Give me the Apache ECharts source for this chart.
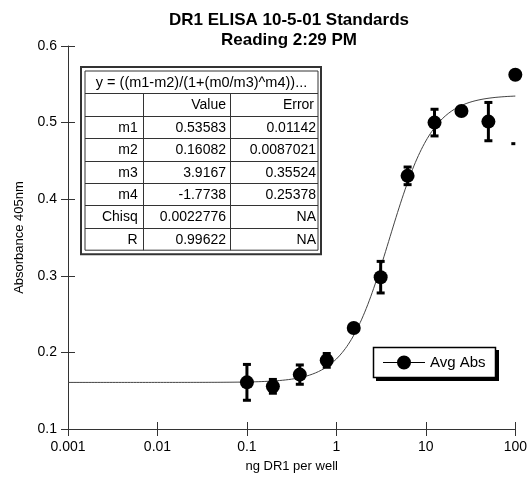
<!DOCTYPE html>
<html>
<head>
<meta charset="utf-8">
<script src="https://cdn.jsdelivr.net/npm/echarts@6/dist/echarts.min.js"></script>
<style>
  html, body { margin: 0; padding: 0; background: #fff; }
  #chart { width: 530px; height: 478px; }
</style>
</head>
<body>
<div id="chart"></div>
<script>
// Standards: DR1 amount per well (ng) and averaged absorbance with its spread
const doses    = [0.1, 0.195, 0.39, 0.78, 1.5625, 3.125, 6.25, 12.5, 25, 50, 100];
const avgAbs   = [0.1609, 0.1557, 0.171, 0.1896, 0.2318, 0.2982, 0.4305, 0.500, 0.5151, 0.5013, 0.5625];
const absError = [0.0234, 0.009, 0.0126, 0.009, 0.004, 0.0206, 0.0115, 0.0174, 0.004, 0.025, 0.09];

// Curve-fit results table
const fitEquation = 'y = ((m1-m2)/(1+(m0/m3)^m4))...';
const fitColumns  = ['', 'Value', 'Error'];
const fitNames    = ['m1', 'm2', 'm3', 'm4', 'Chisq', 'R'];
const fitValues   = ['0.53583', '0.16082', '3.9167', '-1.7738', '0.0022776', '0.99622'];
const fitErrors   = ['0.01142', '0.0087021', '0.35524', '0.25378', 'NA', 'NA'];

// Axis ticks
const xTicks = [0.001, 0.01, 0.1, 1, 10, 100];
const yTicks = [0.1, 0.2, 0.3, 0.4, 0.5, 0.6];

const FONT = '"Liberation Sans", Arial, Helvetica, sans-serif';

// Fitted logistic curve evaluated from the parameters in the table
const m1 = parseFloat(fitValues[0]), m2 = parseFloat(fitValues[1]);
const m3 = parseFloat(fitValues[2]), m4 = parseFloat(fitValues[3]);
const fitCurve = [];
const lo = Math.log10(xTicks[0]), hi = Math.log10(xTicks[xTicks.length - 1]);
for (let i = 0; i <= 300; i++) {
  const m0 = Math.pow(10, lo + (hi - lo) * i / 300);
  fitCurve.push([m0, (m1 - m2) / (1 + Math.pow(m0 / m3, m4)) + m2]);
}

const points = doses.map((d, i) => [d, avgAbs[i]]);
const bars = doses.map((d, i) => [d, avgAbs[i], absError[i]]);

// Table layout (graphic elements)
const tbl = { x: 85, y: 71, w: 233, rowH: 22.4, col: [85, 142.7, 230, 318] };
const tableEls = [];
const nRows = 2 + fitNames.length;
const tblH = nRows * tbl.rowH;
tableEls.push({ type: 'rect', shape: { x: 81, y: 67, width: 240, height: tblH + 8 },
  style: { fill: '#fff', stroke: '#333', lineWidth: 2 } });
tableEls.push({ type: 'rect', shape: { x: tbl.x, y: tbl.y, width: tbl.w, height: tblH },
  style: { fill: 'none', stroke: '#333', lineWidth: 1 } });
for (let r = 1; r < nRows; r++) {
  const yy = Math.round(tbl.y + r * tbl.rowH) + 0.5;
  tableEls.push({ type: 'line', shape: { x1: tbl.x, y1: yy, x2: tbl.x + tbl.w, y2: yy },
    style: { stroke: '#333', lineWidth: 1 } });
}
[1, 2].forEach(c => {
  const xx = Math.round(tbl.col[c]) + 0.5;
  tableEls.push({ type: 'line', shape: { x1: xx, y1: tbl.y + tbl.rowH, x2: xx, y2: tbl.y + tblH },
    style: { stroke: '#333', lineWidth: 1 } });
});
const cellText = (txt, x, r, align, size) => ({
  type: 'text', x: x, y: tbl.y + (r + 0.5) * tbl.rowH + 1,
  style: { text: txt, font: (size || 14) + 'px ' + FONT, fill: '#000', textAlign: align, textVerticalAlign: 'middle' }
});
tableEls.push(cellText(fitEquation, tbl.x + tbl.w / 2, 0, 'center', 14.5));
fitColumns.forEach((t, c) => { if (t) tableEls.push(cellText(t, tbl.col[c + 1] - 4, 1, 'right')); });
fitNames.forEach((n, i) => {
  tableEls.push(cellText(n, tbl.col[1] - 5, i + 2, 'right'));
  tableEls.push(cellText(fitValues[i], tbl.col[2] - 4, i + 2, 'right'));
  tableEls.push(cellText(fitErrors[i], tbl.col[3] - 2, i + 2, 'right'));
});

const chart = echarts.init(document.getElementById('chart'), null, { renderer: 'canvas' });

const axisCommonX = { type: 'log', logBase: 10, position: 'bottom',
  min: xTicks[0], max: xTicks[xTicks.length - 1],
  splitLine: { show: false }, minorTick: { show: false } };
const axisCommonY = { type: 'value', position: 'left',
  min: yTicks[0], max: yTicks[yTicks.length - 1], interval: 0.1,
  splitLine: { show: false } };

chart.setOption({
  animation: false,
  backgroundColor: '#fff',
  textStyle: { fontFamily: FONT },
  grid: { left: 68, right: 13, top: 46, bottom: 48, containLabel: false },
  xAxis: [
    Object.assign({}, axisCommonX, {
      name: 'ng DR1 per well', nameLocation: 'middle', nameGap: 31,
      nameTextStyle: { fontSize: 13, color: '#000', fontFamily: FONT },
      axisLine: { lineStyle: { color: '#333', width: 1 } },
      axisTick: { inside: false, length: 7, lineStyle: { color: '#333' } },
      axisLabel: { color: '#000', fontSize: 14, fontFamily: FONT, margin: 11,
        formatter: v => String(v) }
    }),
    Object.assign({}, axisCommonX, {
      axisLine: { show: false },
      axisTick: { inside: true, length: 7, lineStyle: { color: '#333' } },
      axisLabel: { show: false }
    })
  ],
  yAxis: [
    Object.assign({}, axisCommonY, {
      name: 'Absorbance 405nm', nameLocation: 'middle', nameGap: 42, nameRotate: 90,
      nameTextStyle: { fontSize: 13, color: '#000', fontFamily: FONT },
      axisLine: { show: true, lineStyle: { color: '#333', width: 1 } },
      axisTick: { show: true, inside: false, length: 7, lineStyle: { color: '#333' } },
      axisLabel: { color: '#000', fontSize: 14, fontFamily: FONT, margin: 11,
        formatter: v => v.toFixed(1) }
    }),
    Object.assign({}, axisCommonY, {
      axisLine: { show: false },
      axisTick: { show: true, inside: true, length: 7, lineStyle: { color: '#333' } },
      axisLabel: { show: false }
    })
  ],
  legend: {
    show: true, data: ['Avg Abs'], left: 373, top: 347, orient: 'horizontal', z: 20,
    padding: [8, 11, 8, 10], itemWidth: 42, itemHeight: 14, itemGap: 0,
    icon: 'path://M0,6.5 H15 V7.5 H0 Z M27,6.5 H42 V7.5 H27 Z M21,0 A7,7 0 1 1 21,14 A7,7 0 1 1 21,0 Z',
    itemStyle: { opacity: 1 },
    textStyle: { fontSize: 15, color: '#000', fontFamily: FONT, padding: [0, 0, 0, 0] },
    selectedMode: false
  },
  series: [
    {
      name: 'fit', type: 'line', data: fitCurve, showSymbol: false, symbol: 'none',
      lineStyle: { color: '#444', width: 1 }, silent: true, z: 2
    },
    {
      name: 'errors', type: 'custom', data: bars, z: 3, clip: false, silent: true,
      renderItem: (params, api) => {
        const x = api.value(0), y = api.value(1), e = api.value(2);
        const top = api.coord([x, y + e]), bot = api.coord([x, y - e]);
        const cs = params.coordSys;
        const box = { x: cs.x, y: cs.y, width: cs.width, height: cs.height };
        const style = { fill: '#000' };
        const kids = [];
        const add = r => { const c = echarts.graphic.clipRectByRect(r, box); if (c) kids.push({ type: 'rect', shape: c, style }); };
        if (top[0] < cs.x + cs.width - 1) {
          add({ x: top[0] - 1.5, y: top[1], width: 3, height: bot[1] - top[1] });
        }
        add({ x: top[0] - 4, y: top[1] - 1.5, width: 8, height: 3 });
        add({ x: bot[0] - 4, y: bot[1] - 1.5, width: 8, height: 3 });
        return { type: 'group', children: kids };
      }
    },
    {
      name: 'Avg Abs', type: 'scatter', data: points, symbol: 'circle', symbolSize: 14,
      itemStyle: { color: '#000', opacity: 1 }, z: 4
    }
  ],
  graphic: [
    { type: 'text', x: 289, y: 10, z: 10,
      style: { text: 'DR1 ELISA 10-5-01 Standards\nReading 2:29 PM', font: 'bold 17px ' + FONT,
        fill: '#000', textAlign: 'center', lineHeight: 20 } },
    { type: 'group', z: 10, children: tableEls },
    // legend frame with drop shadow
    { type: 'rect', z: 10, shape: { x: 376, y: 350, width: 123, height: 31 }, style: { fill: '#000' } },
    { type: 'rect', z: 11, shape: { x: 373.5, y: 347.5, width: 122, height: 30 },
      style: { fill: '#fff', stroke: '#000', lineWidth: 1.5 } }
  ]
});
</script>
</body>
</html>
